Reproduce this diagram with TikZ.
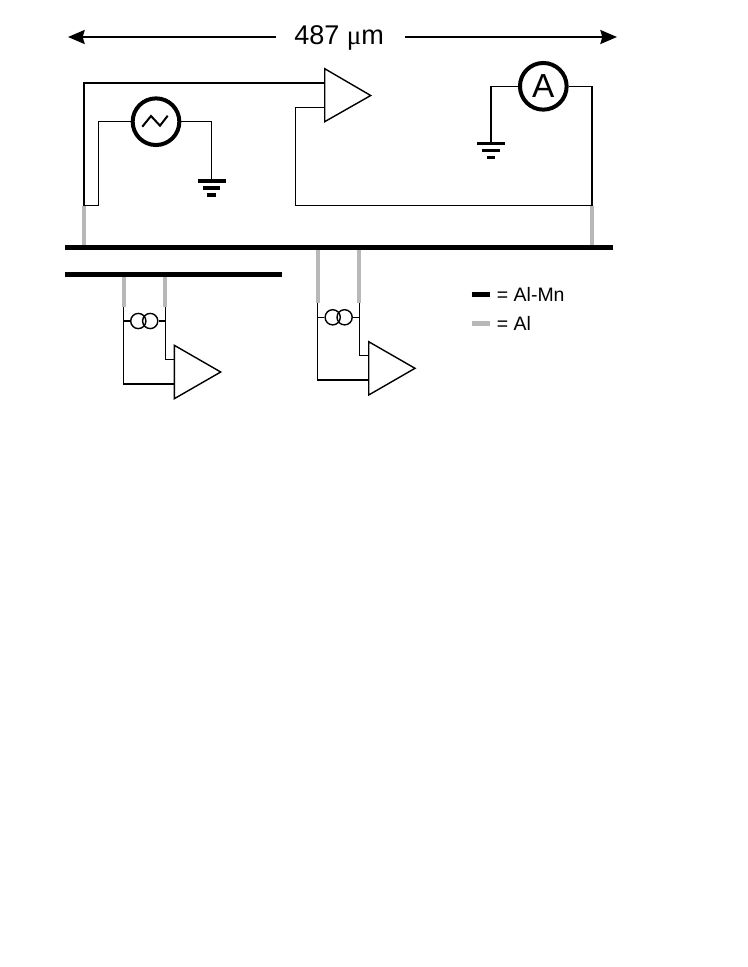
\documentclass[tikz,border=0pt]{standalone}
\usepackage{fontspec}
\setmainfont{Liberation Sans}
\newfontfamily\mufont{Liberation Serif}
\usetikzlibrary{arrows.meta}
\definecolor{algray}{HTML}{B8B8B8}
\tikzset{
  x=0.75pt,y=-0.75pt,
  wire/.style={draw=black,line width=1.05pt,line join=miter},
  albar/.style={draw=algray,line width=3pt},
  mnbar/.style={draw=black,line width=3.4pt},
  span/.style={draw=black,line width=1.5pt,-{Stealth[length=12.5pt,width=10.5pt,inset=1.5pt]}},
  amp/.style={draw=black,fill=white,line width=1.05pt,line join=miter},
  meter/.style={circle,draw=black,fill=white,line width=3pt,minimum size=35pt,inner sep=0pt},
  coil/.style={circle,draw=black,line width=1.05pt,minimum size=11.4pt,inner sep=0pt},
  gnd/.style={draw=black},
  lbl/.style={inner sep=0pt,anchor=base west},
}
\newcommand{\groundsym}[1]{%
  \draw[gnd,line width=2.5pt] ([xshift=-10.5pt]#1) -- ([xshift=10.5pt]#1);
  \draw[gnd,line width=2.5pt] ([xshift=-6.5pt,yshift=-5.2pt]#1) -- ([xshift=6.5pt,yshift=-5.2pt]#1);
  \draw[gnd,line width=2.5pt] ([xshift=-3.2pt,yshift=-10.4pt]#1) -- ([xshift=3.2pt,yshift=-10.4pt]#1);
}
\begin{document}
\begin{tikzpicture}
\useasboundingbox (0,0) rectangle (747,967);
% dimension
\node[lbl,font=\fontsize{20.3}{22}\selectfont] (dim) at (294,44) {487 {\mufont μ}m};
\coordinate (dl0) at (276,37); \coordinate (dl1) at (68,37);
\coordinate (dr0) at (405,37); \coordinate (dr1) at (617,37);
\draw[span] (dl0) -- (dl1);
\draw[span] (dr0) -- (dr1);
% coordinates
\coordinate (t1) at (84,205.7); \coordinate (b1) at (84,245.5);
\coordinate (t2) at (592,205.7); \coordinate (b2) at (592,245.5);
\coordinate (bA1) at (64.5,247.3); \coordinate (bA2) at (613,247.3);
\coordinate (bB1) at (65,274.7); \coordinate (bB2) at (282,274.7);
\coordinate (g1) at (211.5,181); \coordinate (g2) at (491,143.3);
% aluminium
\draw[albar] (b1) -- (t1);
\draw[albar] (b2) -- (t2);
\coordinate (a1) at (123.5,276); \coordinate (a2) at (123.5,307);
\coordinate (a3) at (165.3,276); \coordinate (a4) at (165.3,307);
\coordinate (a5) at (317.7,249); \coordinate (a6) at (317.7,302.7);
\coordinate (a7) at (359.3,249); \coordinate (a8) at (359.3,302.7);
\draw[albar] (a1) -- (a2);
\draw[albar] (a3) -- (a4);
\draw[albar] (a5) -- (a6);
\draw[albar] (a7) -- (a8);
% bars
\draw[mnbar] (bA1) -- (bA2);
\draw[mnbar] (bB1) -- (bB2);
% source and meter
\node[meter] (src) at (156,121.7) {};
\node[meter,font=\fontsize{25}{25}\selectfont] (mtr) at (543.3,86.3) {A};
\draw[line width=1.5pt] (142.3,126.7) -- (151,116) -- (160,125.7) -- (167.7,115.7);
% top wiring
\coordinate (ampA) at (324.7,83); \coordinate (ampB) at (324.7,107.5);
\draw[wire] (t1) -- (84,83) -- (ampA);
\draw[wire] (t1) -- (98.7,205.7) -- (98.7,121.7) -- (src.west);
\draw[wire] (src.east) -- (211.5,121.7) -- (g1);
\draw[wire] (ampB) -- (295.3,107.5) -- (295.3,205.7) -- (t2);
\draw[wire] (t2) -- (592,86.3) -- (mtr.east);
\draw[wire] (mtr.west) -- (491,86.3) -- (g2);
\groundsym{g1}
\groundsym{g2}
\draw[amp] (324.7,68.7) -- (370.7,95.5) -- (324.7,121.7) -- cycle;
% lower left
\coordinate (inA) at (174.3,384); \coordinate (inB) at (174.3,359.7);
\draw[wire] (a2) -- (123.5,384) -- (inA);
\draw[wire] (a4) -- (165.3,359.7) -- (inB);
\node[coil] (c1) at (138.3,321) {};
\node[coil] (c2) at (150.2,321) {};
\draw[wire] (123.5,321) -- (c1.west);
\draw[wire] (c2.east) -- (165.3,321);
\draw[amp] (174.3,345.3) -- (220.7,372) -- (174.3,398.7) -- cycle;
% lower middle
\coordinate (inC) at (368.7,380); \coordinate (inD) at (368.7,355.7);
\draw[wire] (a6) -- (317.7,380) -- (inC);
\draw[wire] (a8) -- (359.3,355.7) -- (inD);
\node[coil] (c3) at (332.7,317.3) {};
\node[coil] (c4) at (344.6,317.3) {};
\draw[wire] (317.7,317.3) -- (c3.west);
\draw[wire] (c4.east) -- (359.3,317.3);
\draw[amp] (368.7,341.7) -- (415,368.3) -- (368.7,395) -- cycle;
% legend
\coordinate (k1) at (471.7,294.7); \coordinate (k2) at (490,294.7);
\coordinate (k3) at (471.7,323.3); \coordinate (k4) at (490,323.3);
\draw[mnbar] (k1) -- (k2);
\draw[albar,line width=3.4pt] (k3) -- (k4);
\node[lbl,font=\fontsize{14.6}{16}\selectfont] (lg1) at (496.7,301.5) {= Al-Mn};
\node[lbl,font=\fontsize{14.6}{16}\selectfont] (lg2) at (496.7,330) {= Al};
\end{tikzpicture}
\end{document}
